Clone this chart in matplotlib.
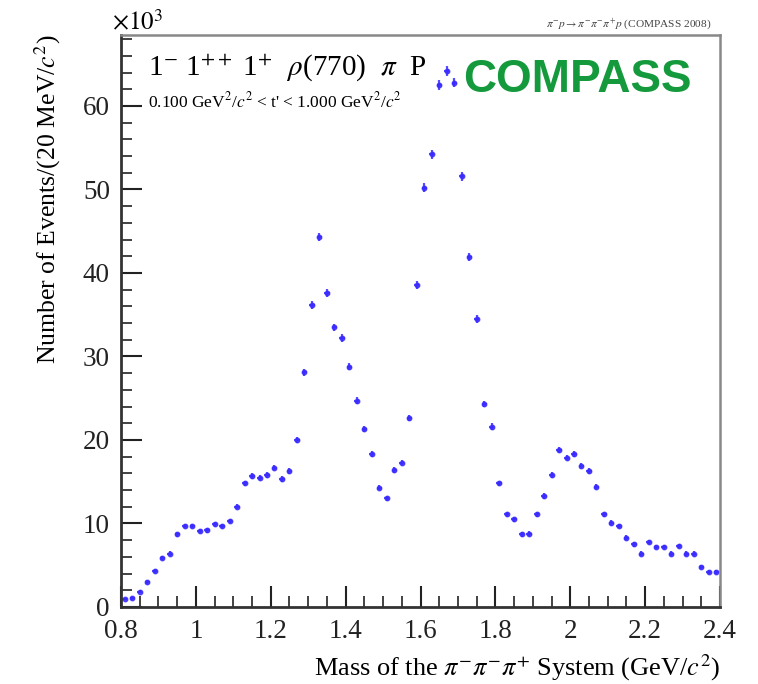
import numpy as np
import matplotlib
matplotlib.use("Agg")
import matplotlib.pyplot as plt
from matplotlib.ticker import MultipleLocator

# ---- data (x10^3 events per 20 MeV bin) ----
bin_low = 0.80
bin_width = 0.02
events = [
    0.96, 1.04, 1.83, 3.0, 4.35, 5.9, 6.4, 8.7, 9.7, 9.7,
    9.1, 9.2, 9.9, 9.7, 10.3, 12.0, 14.8, 15.7, 15.5, 15.8,
    16.7, 15.3, 16.3, 20.0, 28.1, 36.2, 44.3, 37.6, 33.5, 32.2,
    28.8, 24.7, 21.3, 18.3, 14.3, 13.0, 16.4, 17.3, 22.6, 38.6,
    50.2, 54.2, 62.5, 64.2, 62.8, 51.6, 41.9, 34.5, 24.3, 21.6,
    14.8, 11.1, 10.5, 8.7, 8.8, 11.1, 13.3, 15.8, 18.8, 17.9,
    18.3, 16.9, 16.3, 14.4, 11.1, 10.1, 9.7, 8.3, 7.5, 6.4,
    7.8, 7.2, 7.2, 6.4, 7.3, 6.4, 6.4, 4.75, 4.2, 4.2,
]
x_ticks = [0.8, 1.0, 1.2, 1.4, 1.6, 1.8, 2.0, 2.2, 2.4]
x_tick_labels = ["0.8", "1", "1.2", "1.4", "1.6", "1.8", "2", "2.2", "2.4"]
y_ticks = [0, 10, 20, 30, 40, 50, 60]

events = np.array(events)
centers = bin_low + bin_width * (np.arange(len(events)) + 0.5)
yerr = 0.06 * np.sqrt(events) + 0.1

plt.rcParams['font.family'] = ['Liberation Serif', 'DejaVu Serif']
plt.rcParams['mathtext.fontset'] = 'stix'

fig = plt.figure(figsize=(7.58, 6.84), dpi=100)
ax = fig.add_axes([121/758, 1-607/684, (720-121)/758, (607-35)/684])

ax.errorbar(centers, events, xerr=0.007, yerr=yerr, fmt='o', ms=3.2,
            color='#3a2cff', mec='#3a2cff', elinewidth=1.6, capsize=0, alpha=0.85)

ax.set_xlim(0.8, 2.4)
ax.set_ylim(0, 68.5)
ax.set_xticks(x_ticks)
ax.set_xticklabels(x_tick_labels)
ax.set_yticks(y_ticks)
ax.xaxis.set_minor_locator(MultipleLocator(0.05))
ax.yaxis.set_minor_locator(MultipleLocator(2))
ax.tick_params(which='both', direction='in', top=False, right=False,
               labelsize=19.5, colors='#222222')
ax.tick_params(which='major', length=15, width=1.5)
ax.tick_params(which='minor', length=8, width=1.2)
ax.tick_params(axis='x', pad=9)
ax.tick_params(axis='y', pad=8)

for s in ['left', 'bottom']:
    ax.spines[s].set_linewidth(2)
    ax.spines[s].set_color('#333333')
for s in ['top', 'right']:
    ax.spines[s].set_linewidth(1.8)
    ax.spines[s].set_color('#888888')

ax.set_ylabel("Number of Events/(20 MeV/$c^2$)", fontsize=18.5, loc='top', labelpad=14)
ax.set_xlabel(r"Mass of the $\pi^{-}\pi^{-}\pi^{+}$ System (GeV/$c^2$)", fontsize=19,
              loc='right', labelpad=6)

ax.text(-0.015, 1.0, r"$\times10^{3}$", transform=ax.transAxes, fontsize=18,
        ha='left', va='bottom')
ax.text(0.985, 1.005, r"$\pi^{-}p \rightarrow \pi^{-}\pi^{-}\pi^{+}p$ (COMPASS 2008)",
        transform=ax.transAxes, fontsize=8.2, ha='right', va='bottom', color='#444444')
ax.text(0.045, 0.942, r"1$^{-}$ 1$^{++}$ 1$^{+}$  $\rho$(770)  $\pi$  P",
        transform=ax.transAxes, fontsize=21, ha='left', va='center')
ax.text(0.045, 0.884, r"0.100 GeV$^2$/$c^2$ < t' < 1.000 GeV$^2$/$c^2$",
        transform=ax.transAxes, fontsize=12.5, ha='left', va='center')
ax.text(0.953, 0.921, "COMPASS", transform=ax.transAxes, fontsize=33,
        fontweight='bold', family=['Liberation Sans', 'DejaVu Sans'],
        color='#149a3c', ha='right', va='center')

fig.savefig("out.png", dpi=100)
